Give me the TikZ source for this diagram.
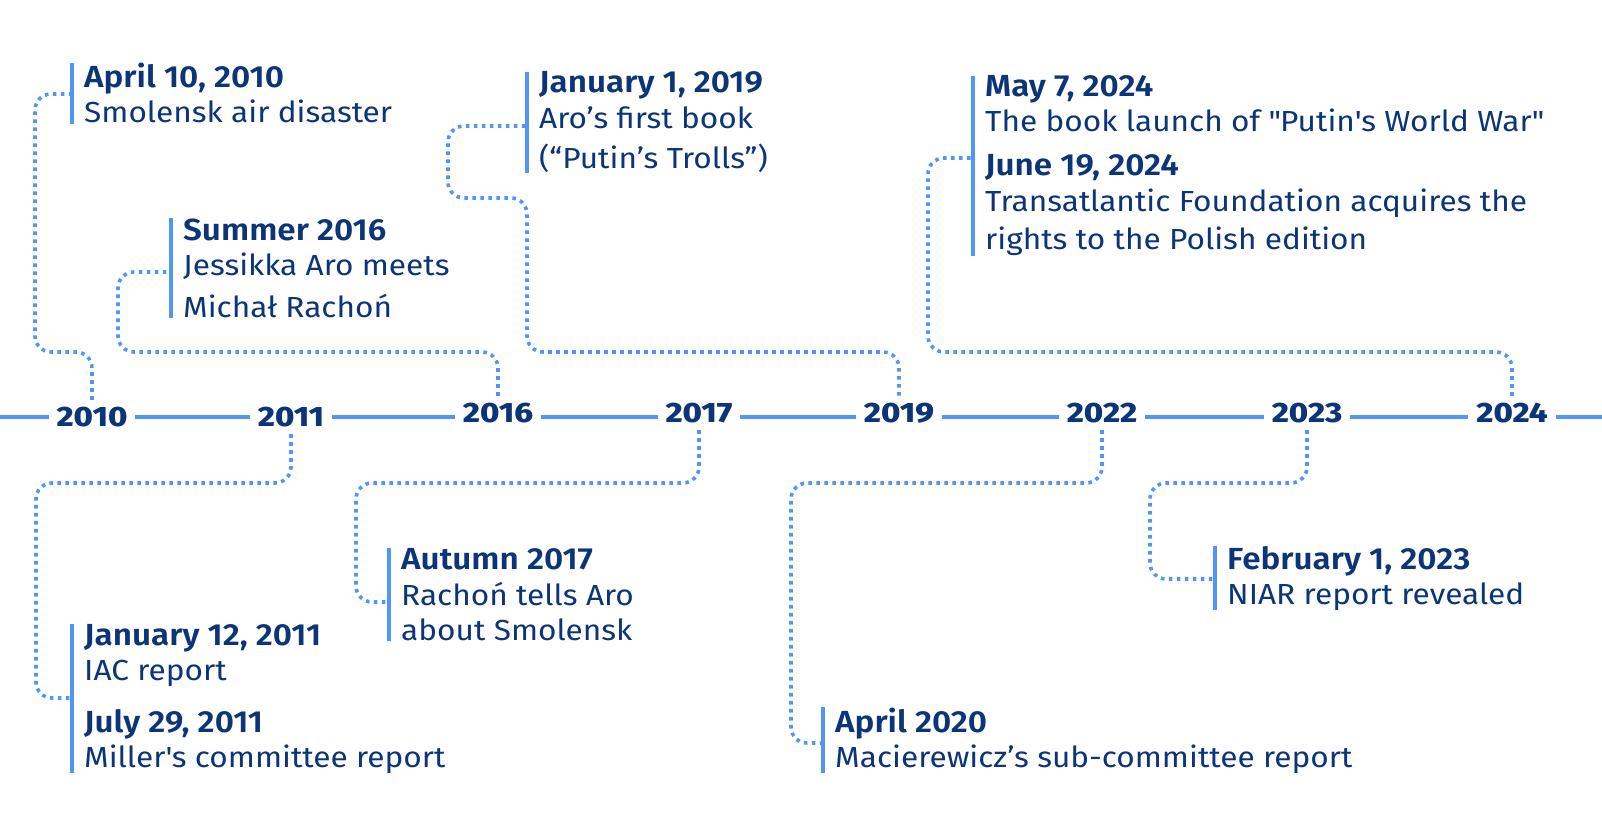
\documentclass[tikz,border=0pt]{standalone}
\usepackage{fontspec}
\setmainfont{Fira Sans}[FakeStretch=1.09]
\newfontfamily\semibold{Fira Sans SemiBold}[FakeStretch=1.09]
\newfontfamily\heavy{Fira Sans ExtraBold}[FakeStretch=1.17]
\usepackage{tikz}
\usetikzlibrary{calc}
\definecolor{navy}{RGB}{12,52,120}
\definecolor{lineblue}{RGB}{82,150,245}
\newcommand{\evtitle}[1]{{\semibold\fontsize{30.5}{35}\selectfont #1}}

\begin{document}
\begin{tikzpicture}[x=1pt,y=-1pt,
    year/.style={fill=white,inner xsep=8pt,inner ysep=7pt,text=navy,font=\heavy\fontsize{28}{28}\selectfont},
    event/.style={anchor=base west,align=left,inner sep=0pt,text=navy,font=\fontsize{29}{35}\selectfont},
    bar/.style={draw=lineblue,line width=3.5pt},
    link/.style={draw=lineblue,line width=3.6pt,dash pattern=on 3.6pt off 4.4pt,rounded corners=16pt},
    axis/.style={draw=lineblue,line width=3.5pt}]
  \fill[white] (0,0) rectangle (1602,834);
  \useasboundingbox (0,0) rectangle (1602,834);

  \coordinate (axisL) at (0,417);
  \coordinate (axisR) at (1602,417);
  \draw[axis] (axisL) -- (axisR);

  \node[year] (y2010) at (92,417) {2010};
  \node[year] (y2011) at (291,417) {2011};
  \node[year] (y2016) at (498,413) {2016};
  \node[year] (y2017) at (699,413) {2017};
  \node[year] (y2019) at (899,413) {2019};
  \node[year] (y2022) at (1102,413) {2022};
  \node[year] (y2023) at (1307,413) {2023};
  \node[year] (y2024) at (1512,413) {2024};

  \node[event] (e2010) at (84,123) {\evtitle{April 10, 2010}\\Smolensk air disaster};
  \node[event] (e2016) at (183,317) {\evtitle{Summer 2016}\\Jessikka Aro meets\\[7pt]Michał Rachoń};
  \node[event] (e2019) at (539,169) {\evtitle{January 1, 2019}\\[1pt]Aro’s first book\\[5pt](“Putin’s Trolls”)};
  \node[event] (e2024) at (985,250) {\evtitle{May 7, 2024}\\The book launch of \textquotedbl Putin\textquotesingle s World War\textquotedbl\\[8pt]\evtitle{June 19, 2024}\\[2pt]Transatlantic Foundation acquires the\\[3pt]rights to the Polish edition};
  \node[event] (e2011) at (84,767) {\evtitle{January 12, 2011}\\IAC report\\[17pt]\evtitle{July 29, 2011}\\Miller\textquotesingle s committee report};
  \node[event] (e2017) at (401,640) {\evtitle{Autumn 2017}\\[1pt]Rachoń tells Aro\\about Smolensk};
  \node[event] (e2022) at (835,767) {\evtitle{April 2020}\\Macierewicz’s sub-committee report};
  \node[event] (e2023) at (1227,604) {\evtitle{February 1, 2023}\\NIAR report revealed};

  \foreach \e in {2010,2016,2019,2024,2011,2017,2022,2023}
    \draw[bar] ([xshift=-12pt]e\e.north west) coordinate (b\e) -- ([xshift=-12pt]e\e.south west);

  \draw[link] (y2010.north) |- (35,352) |- (b2010 |- 0,94);
  \draw[link] (y2016.north) |- (118,352) |- (b2016 |- 0,272);
  \draw[link] (y2019.north) |- (527,352) |- (448,198) |- (b2019 |- 0,126);
  \draw[link] (y2024.north) |- (928,352) |- (b2024 |- 0,158);
  \draw[link] (y2011.south) |- (36,483) |- (b2011 |- 0,698);
  \draw[link] (y2017.south) |- (356,483) |- (b2017 |- 0,602);
  \draw[link] (y2022.south) |- (791,483) |- (b2022 |- 0,743);
  \draw[link] (y2023.south) |- (1150,483) |- (b2023 |- 0,579);
\end{tikzpicture}
\end{document}
